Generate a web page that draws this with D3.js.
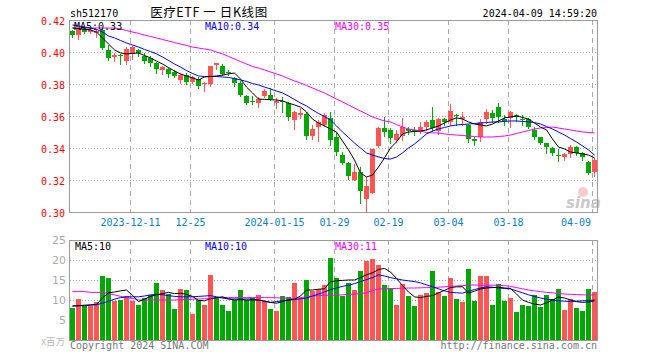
<!DOCTYPE html>
<html><head><meta charset="utf-8">
<script src="https://cdn.jsdelivr.net/npm/d3@7"></script>
<style>body{margin:0;background:#fff}svg{display:block}</style>
</head><body><svg id="c" width="660" height="360"></svg>
<script>
const code = "sh512170";
const title = "医疗ETF 一 日K线图";
const stamp = "2024-04-09 14:59:20";

const opens = [0.4131,0.4106,0.4144,0.4125,0.4119,0.4138,0.4013,0.3969,0.3981,0.3944,
0.3988,0.4013,0.3975,0.3963,0.3931,0.3888,0.3894,0.3875,0.3825,0.3856,
0.3813,0.3831,0.3800,0.3800,0.3919,0.3913,0.3875,0.3838,0.3806,0.3725,
0.3694,0.3681,0.3725,0.3731,0.3681,0.3694,0.3681,0.3575,0.3606,0.3613,
0.3475,0.3531,0.3544,0.3588,0.3469,0.3356,0.3306,0.3200,0.3250,0.3081,
0.3119,0.3413,0.3525,0.3513,0.3450,0.3475,0.3519,0.3513,0.3506,0.3531,
0.3575,0.3506,0.3581,0.3563,0.3606,0.3581,0.3544,0.3456,0.3469,0.3581,
0.3619,0.3656,0.3581,0.3588,0.3606,0.3581,0.3581,0.3513,0.3469,0.3431,
0.3400,0.3356,0.3344,0.3363,0.3406,0.3369,0.3313,0.3250];
const highs = [0.4138,0.4150,0.4150,0.4144,0.4144,0.4144,0.4044,0.3994,0.3988,0.4031,
0.4038,0.4019,0.3994,0.3975,0.3938,0.3913,0.3900,0.3888,0.3869,0.3869,
0.3850,0.3844,0.3813,0.3913,0.3931,0.3925,0.3888,0.3844,0.3819,0.3731,
0.3725,0.3719,0.3769,0.3775,0.3713,0.3719,0.3688,0.3631,0.3650,0.3625,
0.3544,0.3575,0.3619,0.3625,0.3494,0.3375,0.3313,0.3300,0.3281,0.3219,
0.3394,0.3531,0.3594,0.3525,0.3513,0.3588,0.3531,0.3531,0.3563,0.3575,
0.3656,0.3588,0.3588,0.3675,0.3613,0.3625,0.3550,0.3469,0.3581,0.3644,
0.3638,0.3681,0.3606,0.3631,0.3613,0.3606,0.3588,0.3531,0.3469,0.3431,
0.3406,0.3394,0.3369,0.3419,0.3413,0.3375,0.3319,0.3338];
const lows = [0.4094,0.4081,0.4119,0.4119,0.4094,0.4019,0.3950,0.3944,0.3925,0.3925,
0.3956,0.3975,0.3931,0.3913,0.3869,0.3863,0.3844,0.3844,0.3806,0.3800,
0.3806,0.3775,0.3756,0.3788,0.3894,0.3856,0.3856,0.3788,0.3725,0.3675,
0.3675,0.3656,0.3719,0.3700,0.3650,0.3625,0.3575,0.3519,0.3588,0.3456,
0.3456,0.3444,0.3538,0.3419,0.3356,0.3300,0.3206,0.3200,0.3056,0.3006,
0.3119,0.3406,0.3475,0.3431,0.3438,0.3450,0.3488,0.3481,0.3494,0.3513,
0.3506,0.3488,0.3544,0.3544,0.3544,0.3544,0.3438,0.3419,0.3444,0.3556,
0.3563,0.3563,0.3544,0.3531,0.3569,0.3544,0.3525,0.3456,0.3425,0.3369,
0.3356,0.3319,0.3325,0.3344,0.3356,0.3325,0.3238,0.3225];
const closes = [0.4106,0.4144,0.4125,0.4138,0.4131,0.4025,0.3963,0.3981,0.3975,0.4019,
0.4031,0.3994,0.3944,0.3931,0.3894,0.3906,0.3863,0.3850,0.3856,0.3813,
0.3844,0.3788,0.3806,0.3913,0.3931,0.3863,0.3869,0.3806,0.3731,0.3681,
0.3688,0.3706,0.3756,0.3706,0.3694,0.3688,0.3594,0.3625,0.3619,0.3475,
0.3519,0.3563,0.3606,0.3450,0.3375,0.3306,0.3225,0.3250,0.3131,0.3163,
0.3394,0.3525,0.3500,0.3463,0.3488,0.3531,0.3506,0.3500,0.3531,0.3563,
0.3525,0.3581,0.3563,0.3631,0.3600,0.3594,0.3456,0.3444,0.3563,0.3625,
0.3588,0.3594,0.3569,0.3625,0.3594,0.3575,0.3531,0.3469,0.3431,0.3406,
0.3369,0.3350,0.3363,0.3406,0.3369,0.3344,0.3244,0.3325];

const ma5 = [0.4150,0.4146,0.4142,0.4138,0.4125,0.4088,0.4050,0.4013,0.3994,0.3988,
0.3991,0.3994,0.3978,0.3963,0.3944,0.3925,0.3903,0.3881,0.3863,0.3850,
0.3838,0.3825,0.3844,0.3847,0.3850,0.3856,0.3863,0.3869,0.3831,0.3781,
0.3744,0.3706,0.3704,0.3702,0.3700,0.3694,0.3681,0.3669,0.3656,0.3625,
0.3581,0.3556,0.3538,0.3519,0.3500,0.3444,0.3388,0.3325,0.3244,0.3219,
0.3231,0.3281,0.3338,0.3400,0.3438,0.3488,0.3500,0.3503,0.3506,0.3513,
0.3525,0.3538,0.3556,0.3575,0.3588,0.3581,0.3563,0.3550,0.3544,0.3538,
0.3550,0.3569,0.3588,0.3594,0.3600,0.3591,0.3581,0.3556,0.3531,0.3513,
0.3456,0.3406,0.3394,0.3375,0.3369,0.3363,0.3356,0.3338];
const ma10 = [0.4169,0.4163,0.4156,0.4150,0.4141,0.4125,0.4100,0.4088,0.4072,0.4056,
0.4044,0.4031,0.4016,0.4003,0.3988,0.3969,0.3947,0.3925,0.3906,0.3884,
0.3866,0.3850,0.3847,0.3847,0.3847,0.3844,0.3841,0.3834,0.3825,0.3816,
0.3803,0.3794,0.3781,0.3769,0.3756,0.3744,0.3725,0.3703,0.3681,0.3663,
0.3638,0.3616,0.3597,0.3575,0.3538,0.3500,0.3466,0.3431,0.3400,0.3369,
0.3356,0.3344,0.3334,0.3331,0.3344,0.3369,0.3400,0.3425,0.3456,0.3488,
0.3506,0.3519,0.3528,0.3538,0.3544,0.3547,0.3550,0.3553,0.3556,0.3559,
0.3563,0.3563,0.3566,0.3569,0.3569,0.3566,0.3563,0.3559,0.3550,0.3534,
0.3519,0.3500,0.3481,0.3459,0.3438,0.3413,0.3388,0.3356];
const ma30 = [0.4150,0.4150,0.4150,0.4150,0.4150,0.4150,0.4150,0.4150,0.4144,0.4134,
0.4125,0.4116,0.4106,0.4097,0.4088,0.4078,0.4069,0.4059,0.4050,0.4041,
0.4031,0.4025,0.4019,0.4013,0.4000,0.3988,0.3972,0.3956,0.3941,0.3925,
0.3909,0.3900,0.3888,0.3875,0.3863,0.3850,0.3834,0.3819,0.3806,0.3791,
0.3775,0.3759,0.3744,0.3725,0.3706,0.3688,0.3669,0.3650,0.3631,0.3613,
0.3594,0.3581,0.3569,0.3563,0.3547,0.3531,0.3519,0.3513,0.3506,0.3497,
0.3494,0.3494,0.3488,0.3484,0.3481,0.3478,0.3475,0.3472,0.3469,0.3469,
0.3469,0.3472,0.3475,0.3481,0.3491,0.3500,0.3509,0.3519,0.3525,0.3528,
0.3531,0.3525,0.3519,0.3513,0.3506,0.3500,0.3497,0.3494];

const volumes = [8.1,10.25,8.6,8.6,9.4,16.0,15.6,9.8,10.0,11.0,
9.8,8.75,10.6,11.25,14.3,12.6,11.5,7.8,12.8,12.6,
6.5,10.0,8.75,16.3,10.8,8.8,7.3,10.0,12.6,10.0,
10.5,11.3,9.8,7.8,7.2,11.0,10.8,14.3,10.5,15.0,
12.3,12.7,13.8,20.4,15.6,11.1,14.2,12.5,17.25,19.75,
20.25,18.75,13.75,13.1,8.75,13.9,11.0,8.5,11.25,11.8,
17.25,11.9,11.0,15.6,10.25,9.6,17.75,9.75,16.1,16.1,
8.75,13.9,9.75,10.6,7.0,8.75,8.5,11.25,8.3,11.25,
10.25,12.75,7.5,10.25,8.0,7.25,12.75,11.9];
const volSide = "GRGRRGGRGR"+"RGGGGRGGRG"+"RGRRGGGGGG"+"GRRGRGGRRG"+"RRRGGGGRGR"+
"RRGGRRGGRR"+"GRGRGRGGRR"+"GGGRGGGGGG"+"GGRRGGGR";
const vma5 = [8.5,8.6,8.7,8.8,8.9,10.5,11.8,12.0,12.3,12.5,
11.2,9.6,10.2,10.9,11.3,11.6,11.9,11.6,11.7,11.4,
10.9,9.9,9.8,10.3,10.6,10.8,10.3,10.0,10.1,10.0,
10.0,10.0,9.7,9.4,9.2,9.6,10.0,10.2,11.0,12.5,
12.5,12.7,12.8,14.6,14.8,14.9,15.0,15.0,15.6,16.3,
16.8,17.6,17.9,17.0,15.4,13.6,12.0,10.8,10.6,10.9,
11.1,11.8,12.4,13.1,13.3,13.3,11.7,12.2,12.75,13.0,
13.1,13.2,13.0,12.9,11.5,10.0,9.4,9.0,8.75,9.3,
10.0,10.75,10.5,10.0,9.6,9.4,9.5,9.8];
const vma10 = [8.5,8.55,8.6,8.7,8.8,9.2,9.7,10.2,10.6,10.8,
10.8,10.8,11.0,11.3,11.4,11.3,11.1,10.9,10.8,10.8,
10.8,10.9,11.0,11.1,10.8,10.5,10.25,10.25,10.25,10.25,
10.25,10.0,9.7,9.4,9.6,9.8,10.0,10.1,10.3,10.5,
11.0,11.5,12.0,12.6,13.0,13.4,13.7,14.1,14.6,15.1,
15.6,16.3,16.0,15.6,15.3,15.0,14.8,14.6,14.3,13.8,
13.3,12.8,12.3,11.9,11.8,11.7,12.2,12.6,13.0,13.3,
13.2,13.0,12.9,12.75,12.3,11.8,11.3,10.9,10.5,10.2,
10.0,9.8,9.7,9.6,9.7,9.8,9.9,10.0];
const vma30 = [12.1,12.1,12.1,11.9,11.9,11.9,11.6,11.3,10.9,10.6,
10.4,10.0,10.0,10.0,10.0,10.0,10.0,10.0,10.1,10.1,
10.2,10.25,10.3,10.4,10.5,10.6,10.6,10.6,10.6,10.6,
10.6,10.6,10.6,10.6,10.55,10.5,10.45,10.4,10.6,10.8,
11.0,11.1,11.2,11.2,11.2,11.3,11.4,11.5,11.6,11.8,
12.4,12.75,12.8,12.85,12.9,12.95,13.0,13.0,13.05,13.1,
13.1,13.2,13.3,13.4,13.5,13.6,13.75,13.75,13.7,13.7,
13.7,13.65,13.6,13.4,13.1,12.8,12.5,12.3,12.1,11.9,
11.8,11.6,11.5,11.4,11.35,11.3,11.25,11.25];

const tickIdx = [10,20,34,44,53,63,73,87];
const tickLabels = ["2023-12-11","12-25","2024-01-15","01-29","02-19","03-04","03-18","04-09"];
const priceTicks = [0.30,0.32,0.34,0.36,0.38,0.40,0.42];
const volTicks = [5,10,15,20,25];

const UP = "#ff5555", DN = "#00a800", GRID = "#aaaaaa";
const MONO = "'DejaVu Sans Mono', 'Liberation Mono', monospace";

const svg = d3.select("#c");
const L = 70, R = 597, pT = 20, pB = 212, vT = 240, vB = 340;
const n = opens.length;
const x = d3.scaleBand().domain(d3.range(n)).range([L, R]).paddingInner(1/6).paddingOuter(0);
const bw = x.bandwidth();
const yP = d3.scaleLinear().domain([0.30, 0.42]).range([pB, pT]);
const yV = d3.scaleLinear().domain([0, 25]).range([vB, vT]);

// header
svg.append("text").attr("x", L).attr("y", 16.5).attr("font-family", MONO).attr("font-size", 10)
  .attr("fill", "#000").text(code);
svg.append("text").attr("x", 209).attr("y", 17).attr("text-anchor", "middle")
  .attr("font-family", "'Noto Sans CJK SC', sans-serif").attr("font-size", 12.5).attr("letter-spacing", 0.6)
  .attr("fill", "#000").text(title);
svg.append("text").attr("x", R).attr("y", 16.5).attr("text-anchor", "end").attr("font-family", MONO)
  .attr("font-size", 10).attr("fill", "#000").text(stamp);

function panel(top, bottom, yScale, inner) {
  const g = svg.append("g");
  g.selectAll("line.h").data(inner).join("line").attr("class", "h")
    .attr("x1", L).attr("x2", R).attr("y1", d => Math.round(yScale(d)) + 0.5).attr("y2", d => Math.round(yScale(d)) + 0.5)
    .attr("stroke", GRID).attr("stroke-dasharray", "1,2");
  g.selectAll("line.v").data(tickIdx).join("line").attr("class", "v")
    .attr("x1", d => x(d) + 0.5).attr("x2", d => x(d) + 0.5).attr("y1", top).attr("y2", bottom)
    .attr("stroke", GRID).attr("stroke-dasharray", "5,4");
  return g;
}

// price panel
panel(pT, pB, yP, priceTicks.slice(1, -1));
svg.append("clipPath").attr("id", "cp").append("rect").attr("x", L).attr("y", pT).attr("width", R - L + 1).attr("height", pB - pT);
const wm = svg.append("g");
wm.append("circle").attr("cx", 583).attr("cy", 192).attr("r", 5).attr("fill", "#f4a0a0").attr("opacity", 0.55);
wm.append("text").attr("x", 566).attr("y", 208).attr("font-family", "'DejaVu Sans', sans-serif")
  .attr("font-size", 15).attr("font-weight", "bold").attr("font-style", "italic").attr("fill", "#c8c8c8").text("sina");

const candles = svg.append("g").attr("clip-path", "url(#cp)");
d3.range(n).forEach(i => {
  const up = closes[i] >= opens[i];
  const col = up ? UP : DN;
  const cx = x(i) + Math.floor(bw / 2) + 0.5;
  candles.append("line").attr("x1", cx).attr("x2", cx)
    .attr("y1", Math.round(yP(highs[i]))).attr("y2", Math.round(yP(lows[i])) + 1)
    .attr("stroke", col).attr("shape-rendering", "crispEdges");
  const yTop = Math.round(yP(Math.max(opens[i], closes[i])));
  const yBot = Math.round(yP(Math.min(opens[i], closes[i])));
  candles.append("rect").attr("x", x(i)).attr("width", bw).attr("y", yTop)
    .attr("height", Math.max(1, yBot - yTop)).attr("fill", col).attr("shape-rendering", "crispEdges");
});

const lineP = d3.line().x((d, i) => x(i) + bw / 2).y(d => yP(d));
[[ma30, "#ff00ff"], [ma10, "#0000ff"], [ma5, "#000000"]].forEach(([arr, c]) => {
  candles.append("path").datum(arr).attr("d", lineP).attr("fill", "none").attr("stroke", c).attr("stroke-width", 1);
});

svg.append("rect").attr("x", L - 0.5).attr("y", pT + 0.5).attr("width", R - L + 1).attr("height", pB - pT)
  .attr("fill", "none").attr("stroke", "#9a9a9a");
const ay = svg.append("g").attr("transform", `translate(${L - 5},0)`)
  .call(d3.axisLeft(yP).tickValues(priceTicks).tickSize(0).tickPadding(0).tickFormat(d3.format(".2f")));
ay.select(".domain").remove();
ay.selectAll("text").attr("font-family", MONO).attr("font-size", 10).attr("fill", "#ff0000").attr("dy", "0.45em");

const fmt2 = d3.format(".2f");
[["MA5:" + fmt2(ma5[n - 1]), 74, "#000"], ["MA10:" + fmt2(ma10[n - 1]), 205, "#0000ff"], ["MA30:" + fmt2(ma30[n - 1]), 335, "#ff00ff"]]
  .forEach(([t, xx, c]) => svg.append("text").attr("x", xx).attr("y", 29.5).attr("font-family", MONO).attr("font-size", 10).attr("fill", c).text(t));

tickIdx.forEach((d, k) => {
  const last = k === tickIdx.length - 1;
  svg.append("text").attr("x", last ? x(d) - 1 : x(d) + 0.5).attr("y", 225.5)
    .attr("text-anchor", last ? "end" : "middle").attr("font-family", MONO).attr("font-size", 10)
    .attr("fill", "#0a7fd0").text(tickLabels[k]);
});

// volume panel
panel(vT, vB, yV, volTicks.slice(0, -1));
svg.append("clipPath").attr("id", "cv").append("rect").attr("x", L).attr("y", vT).attr("width", R - L + 1).attr("height", vB - vT);
const vg = svg.append("g").attr("clip-path", "url(#cv)");
vg.selectAll("rect").data(volumes).join("rect")
  .attr("x", (d, i) => x(i)).attr("width", bw)
  .attr("y", d => Math.round(yV(d))).attr("height", d => vB - Math.round(yV(d)))
  .attr("fill", (d, i) => volSide[i] === "R" ? UP : DN).attr("shape-rendering", "crispEdges");
const lineV = d3.line().x((d, i) => x(i) + bw / 2).y(d => yV(d));
[[vma30, "#ff00ff"], [vma10, "#0000ff"], [vma5, "#000000"]].forEach(([arr, c]) => {
  vg.append("path").datum(arr).attr("d", lineV).attr("fill", "none").attr("stroke", c).attr("stroke-width", 1);
});
svg.append("rect").attr("x", L - 0.5).attr("y", vT + 0.5).attr("width", R - L + 1).attr("height", vB - vT)
  .attr("fill", "none").attr("stroke", "#9a9a9a");
const av = svg.append("g").attr("transform", `translate(${L - 4},0)`)
  .call(d3.axisLeft(yV).tickValues(volTicks).tickSize(0).tickPadding(0));
av.select(".domain").remove();
av.selectAll("text").attr("font-family", "'DejaVu Sans', sans-serif").attr("font-size", 11).attr("fill", "#aaaaaa").attr("dy", "0.35em");
svg.append("text").attr("x", 65).attr("y", 345).attr("text-anchor", "end")
  .attr("font-family", "'Noto Sans CJK SC', sans-serif").attr("font-size", 9.5).attr("fill", "#bbbbbb").text("x百万");

const fmt0 = d3.format(".0f");
[["MA5:" + fmt0(vma5[n - 1]), 75, "#000"], ["MA10:" + fmt0(vma10[n - 1]), 205, "#0000ff"], ["MA30:" + fmt0(vma30[n - 1]), 335, "#ff00ff"]]
  .forEach(([t, xx, c]) => svg.append("text").attr("x", xx).attr("y", 250).attr("font-family", MONO).attr("font-size", 10).attr("fill", c).text(t));

svg.append("text").attr("x", L).attr("y", 348.5).attr("font-family", MONO).attr("font-size", 10).attr("fill", "#777").text("Copyright 2024 SINA.COM");
svg.append("text").attr("x", R).attr("y", 348.5).attr("text-anchor", "end").attr("font-family", MONO).attr("font-size", 10).attr("fill", "#777").text("http://finance.sina.com.cn");
</script></body></html>
